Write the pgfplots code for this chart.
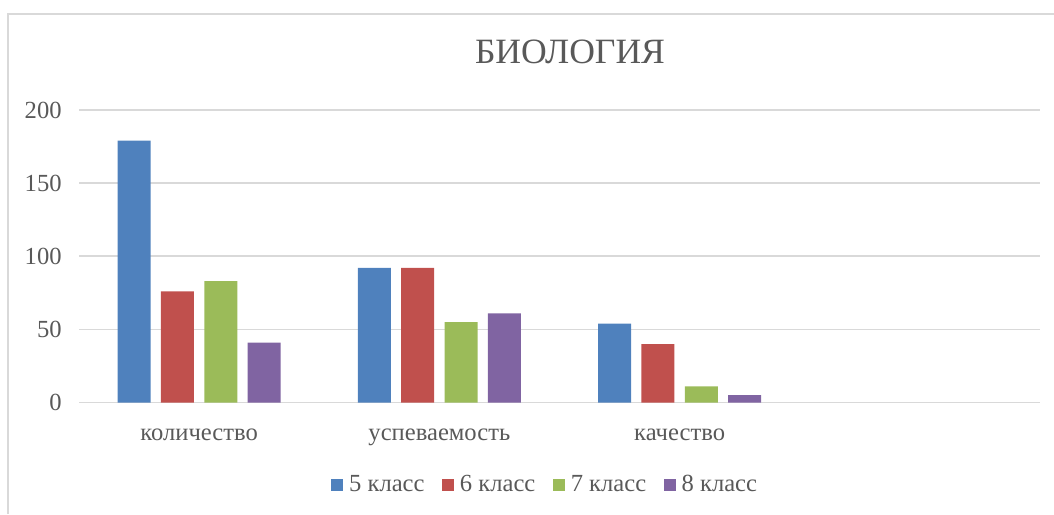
\documentclass[border=0pt]{standalone}
\usepackage{pgfplots}
\pgfplotsset{compat=1.18}
\usepackage{fontspec}
\setmainfont{Liberation Serif}

\definecolor{c5}{HTML}{4F81BD}
\definecolor{c6}{HTML}{C0504D}
\definecolor{c7}{HTML}{9BBB59}
\definecolor{c8}{HTML}{8064A2}
\definecolor{gridgray}{HTML}{D9D9D9}
\definecolor{txt}{HTML}{595959}

\begin{document}
\begin{tikzpicture}
% 1 px of the reference = 0.5pt
\useasboundingbox (0,0) rectangle (527pt,-257pt);
\draw[gridgray, line width=0.8pt] (4pt,-257pt) -- (4pt,-7pt) -- (527pt,-7pt);
\node[txt, font=\fontsize{17.8}{20}\selectfont] at (285pt,-26pt) {БИОЛОГИЯ};

\begin{axis}[
    at={(39.5pt,-201.25pt)}, anchor=south west,
    scale only axis,
    width=480.5pt, height=146.25pt,
    ybar=5.15pt, bar width=16.5pt,
    xmin=-0.5, xmax=3.5,
    ymin=0, ymax=200,
    xtick={0,1,2},
    xticklabels={количество, успеваемость, качество},
    ytick={0,50,100,150,200},
    axis line style={draw=none},
    major tick length=0pt,
    ymajorgrids,
    grid style={gridgray, line width=0.8pt},
    /pgf/number format/assume math mode=true,
    tick label style={txt, font=\fontsize{12.3}{14}\selectfont},
    yticklabel style={anchor=east, inner sep=0pt, xshift=-8.5pt},
    xticklabel style={anchor=base, inner sep=0pt, yshift=-18.75pt},
    legend style={at={(0.485,-0.282)}, anchor=center, draw=none, fill=none,
        legend columns=4, font=\fontsize{12.3}{14}\selectfont, text=txt,
        /tikz/every odd column/.append style={column sep=2pt},
        /tikz/every even column/.append style={column sep=7.7pt},
        nodes={inner sep=1pt}},
    legend image code/.code={\fill[#1, draw=none] (0pt,-3pt) rectangle (6pt,3pt);},
]
\addplot[fill=c5, draw=none] coordinates {(0,179) (1,92) (2,54)};
\addplot[fill=c6, draw=none] coordinates {(0,76) (1,92) (2,40)};
\addplot[fill=c7, draw=none] coordinates {(0,83) (1,55) (2,11)};
\addplot[fill=c8, draw=none] coordinates {(0,41) (1,61) (2,5)};
\legend{5 класс, 6 класс, 7 класс, 8 класс}
\end{axis}
\end{tikzpicture}
\end{document}
